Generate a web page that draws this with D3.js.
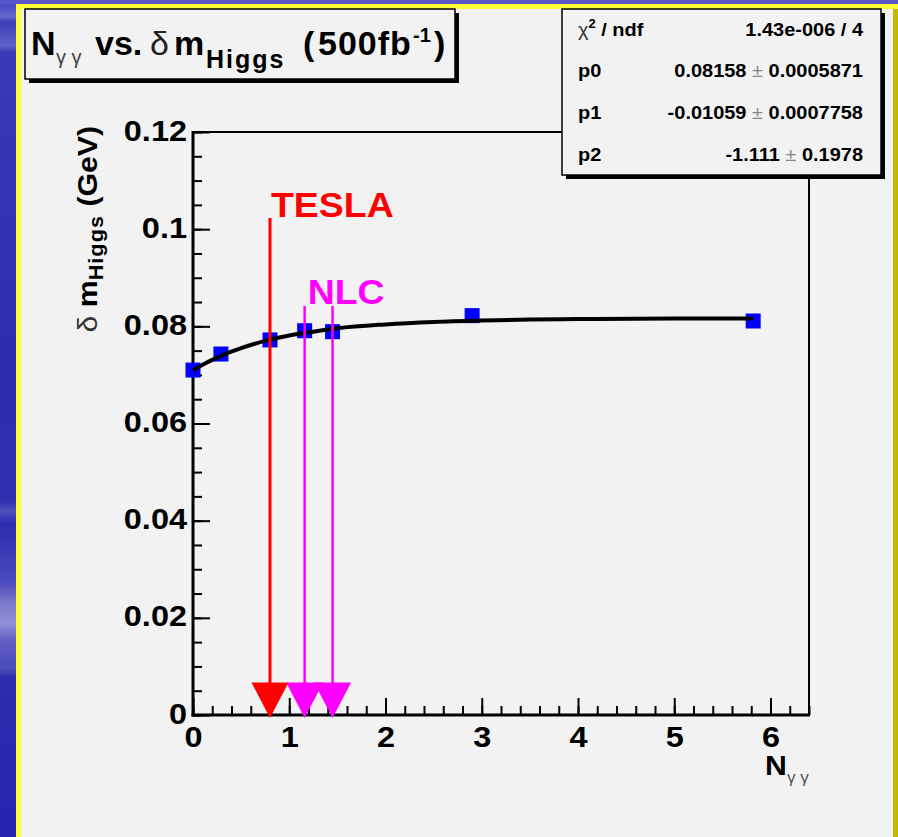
<!DOCTYPE html>
<html><head><meta charset="utf-8">
<script src="https://cdn.jsdelivr.net/npm/d3@7"></script>
<style>html,body{margin:0;padding:0;background:#f2f2f2;} svg{display:block}</style>
</head><body>
<svg id="c" width="898" height="837"></svg>
<script>
// ---- data ----
const pointX = [0, 0.29, 0.80, 1.16, 1.45, 2.90, 5.82];
const pointY = [0.0710, 0.0743, 0.0772, 0.0791, 0.0789, 0.0822, 0.0811];
const curveX = [0, 0.1, 0.2, 0.3, 0.5, 0.75, 1.0, 1.25, 1.5, 2.0, 2.5, 3.0, 3.5, 4.0, 5.0, 5.82];
const curveY = [0.0710, 0.0721, 0.0731, 0.0740, 0.0755, 0.0770, 0.0781, 0.0789, 0.0796, 0.0804, 0.0809, 0.0812, 0.0814, 0.0815, 0.0816, 0.0816];
const arrowX = [0.80, 1.16, 1.45];
const arrowTop = [0.1023, 0.0842, 0.0842];
const arrowGroup = ["TESLA", "NLC", "NLC"];
const xTicks = [0, 1, 2, 3, 4, 5, 6];
const xTickLabels = ["0", "1", "2", "3", "4", "5", "6"];
const yTicks = [0, 0.02, 0.04, 0.06, 0.08, 0.10, 0.12];
const yTickLabels = ["0", "0.02", "0.04", "0.06", "0.08", "0.1", "0.12"];
const statNames = ["χ2 / ndf", "p0", "p1", "p2"];
const statValues = ["1.43e-006 / 4", "0.08158 ± 0.0005871", "-0.01059 ± 0.0007758", "-1.111 ± 0.1978"];

// ---- drawing ----
const W = 898, H = 837;
const FONT = '"Liberation Sans", Arial, Helvetica, sans-serif';
const svg = d3.select('#c').attr('font-family', FONT);

const defs = svg.append('defs');
const g = defs.append('linearGradient').attr('id', 'bg').attr('x1', 0).attr('y1', 0).attr('x2', 0).attr('y2', 1);
[[0,'#5c5cc8'],[0.006,'#4a4ac0'],[0.02,'#6a6ad0'],[0.026,'#3e3eb8'],[0.055,'#6060c8'],[0.062,'#3a3ab6'],
 [0.2,'#3434b4'],[0.45,'#2c2cae'],[0.6,'#3030b0'],[0.61,'#5252c0'],[0.625,'#2c2cae'],[0.695,'#4a4abc'],
 [0.72,'#7a7acc'],[0.745,'#9090d8'],[0.765,'#6060c4'],[0.8,'#4a4abb'],[0.81,'#2c2cae'],[1,'#2424b0']]
 .forEach(([o,c]) => g.append('stop').attr('offset', o).attr('stop-color', c));

svg.append('rect').attr('x',0).attr('y',0).attr('width',W).attr('height',H).attr('fill','url(#bg)');
svg.append('rect').attr('x',0).attr('y',0).attr('width',W).attr('height',4).attr('fill','#5656c4');
svg.append('rect').attr('x',16).attr('y',4).attr('width',W-16).attr('height',H-4).attr('fill','#ffff33');
svg.append('rect').attr('x',893).attr('y',9).attr('width',5).attr('height',H-9).attr('fill','#c2ba00');
svg.append('rect').attr('x',21).attr('y',9).attr('width',872).attr('height',H-9).attr('fill','#f2f2f2');

const x = d3.scaleLinear().domain([0, 6.4]).range([193, 809]);
const y = d3.scaleLinear().domain([0, 0.12]).range([715, 132]);

// helper: horizontally stretched text
function stext(parent, px, py, sx, anchor) {
  return parent.append('g').attr('transform', `translate(${px},${py}) scale(${sx},1)`)
    .append('text').attr('x', 0).attr('y', 0).attr('text-anchor', anchor || 'start');
}

// minor ticks
const minorX = d3.range(0, 6.401, 0.2);
const minorY = d3.range(0, 0.1201, 0.005);
svg.append('g').attr('transform', `translate(0,${y(0)})`)
  .call(d3.axisBottom(x).tickValues(minorX).tickSize(-9).tickSizeOuter(0).tickFormat(''))
  .call(a => a.select('.domain').remove())
  .call(a => a.selectAll('line').attr('stroke', '#000').attr('stroke-width', 2));
svg.append('g').attr('transform', `translate(${x(0)},0)`)
  .call(d3.axisLeft(y).tickValues(minorY).tickSize(-9).tickSizeOuter(0).tickFormat(''))
  .call(a => a.select('.domain').remove())
  .call(a => a.selectAll('line').attr('stroke', '#000').attr('stroke-width', 2));

// major ticks + labels
const TSX = 1.12;
svg.append('g').attr('transform', `translate(0,${y(0)})`)
  .call(d3.axisBottom(x).tickValues(xTicks).tickSize(-17).tickSizeOuter(0).tickFormat((d,i) => xTickLabels[i]))
  .call(a => a.select('.domain').remove())
  .call(a => a.selectAll('line').attr('stroke', '#000').attr('stroke-width', 2))
  .call(a => a.selectAll('text').attr('fill', '#000').attr('font-size', 29).attr('font-weight', 'bold')
     .attr('font-family', FONT).attr('y', 0).attr('dy', 0).attr('transform', `translate(0,32) scale(${TSX},1)`));
svg.append('g').attr('transform', `translate(${x(0)},0)`)
  .call(d3.axisLeft(y).tickValues(yTicks).tickSize(-17).tickSizeOuter(0).tickFormat((d,i) => yTickLabels[i]))
  .call(a => a.select('.domain').remove())
  .call(a => a.selectAll('line').attr('stroke', '#000').attr('stroke-width', 2))
  .call(a => a.selectAll('text').attr('fill', '#000').attr('font-size', 29).attr('font-weight', 'bold')
     .attr('font-family', FONT).attr('x', 0).attr('dy', 0).attr('text-anchor', 'end')
     .attr('transform', `translate(-6,8) scale(${TSX},1)`));

// frame
const fr = svg.append('g').attr('stroke', '#000').attr('fill', 'none');
fr.append('line').attr('x1', x(0)).attr('x2', x(6.4)).attr('y1', y(0.12)).attr('y2', y(0.12)).attr('stroke-width', 2);
fr.append('line').attr('x1', x(6.4)).attr('x2', x(6.4)).attr('y1', y(0.12)).attr('y2', y(0)).attr('stroke-width', 2);
fr.append('line').attr('x1', x(0)).attr('x2', x(0)).attr('y1', y(0.12) - 1).attr('y2', y(0) + 1.5).attr('stroke-width', 3);
fr.append('line').attr('x1', x(0) - 1.5).attr('x2', x(6.4) + 1).attr('y1', y(0)).attr('y2', y(0)).attr('stroke-width', 3);

// markers
svg.append('g').selectAll('rect').data(pointX).join('rect')
  .attr('x', (d) => x(d) - 7.5).attr('y', (d,i) => y(pointY[i]) - 7.5)
  .attr('width', 15).attr('height', 15).attr('fill', '#0000ff');

// fit curve
const line = d3.line().x(d => x(d[0])).y(d => y(d[1])).curve(d3.curveMonotoneX);
svg.append('path').datum(curveX.map((d,i) => [d, curveY[i]]))
  .attr('d', line).attr('fill', 'none').attr('stroke', '#000').attr('stroke-width', 4);

// arrows
const colorOf = k => k === 'TESLA' ? '#ff0000' : '#ff00ff';
const headH = 35.5, headW = 37;
arrowX.forEach((ax, i) => {
  const cx = x(ax), tipY = y(0) + 3;
  svg.append('line').attr('x1', cx).attr('x2', cx).attr('y1', y(arrowTop[i])).attr('y2', tipY - headH + 1)
    .attr('stroke', colorOf(arrowGroup[i])).attr('stroke-width', arrowGroup[i] === 'TESLA' ? 3 : 2.5);
});
arrowX.forEach((ax, i) => {
  const cx = x(ax), tipY = y(0) + 3;
  svg.append('path').attr('d', `M${cx - headW/2},${tipY - headH}L${cx + headW/2},${tipY - headH}L${cx},${tipY}Z`)
    .attr('fill', colorOf(arrowGroup[i]));
});
// arrow labels (one per group, at first arrow of the group)
const seen = {};
arrowX.forEach((ax, i) => {
  const k = arrowGroup[i];
  if (seen[k]) return; seen[k] = true;
  stext(svg, x(ax) + (k === 'TESLA' ? 1 : 3), y(arrowTop[i]) - (k === 'TESLA' ? 1 : 2), 1.07)
    .attr('font-size', 35).attr('font-weight', 'bold').attr('fill', colorOf(k)).text(k);
});

// axis titles
const yt = svg.append('g').attr('transform', `translate(97,126) rotate(-90) scale(1.08,1)`)
  .append('text').attr('text-anchor', 'end').attr('font-size', 28).attr('font-weight', 'bold').attr('fill', '#000');
yt.append('tspan').attr('font-weight', 'normal').attr('fill', '#333').text('δ ');
yt.append('tspan').text('m');
yt.append('tspan').attr('font-size', 20).attr('dy', 6).attr('letter-spacing', 1).text('Higgs');
yt.append('tspan').attr('dy', -6).text(' (GeV)');

const xt = stext(svg, x(6.4), 775, 1.08, 'end').attr('font-size', 28).attr('font-weight', 'bold').attr('fill', '#000');
xt.append('tspan').text('N');
xt.append('tspan').attr('font-size', 16).attr('font-weight', 'normal').attr('fill', '#555').attr('dy', 8).text('γ γ');

// title box
svg.append('rect').attr('x', 29).attr('y', 13).attr('width', 430).attr('height', 70).attr('fill', '#000');
svg.append('rect').attr('x', 25).attr('y', 9).attr('width', 430).attr('height', 70).attr('fill', '#f2f2f2')
  .attr('stroke', '#000').attr('stroke-width', 1.5);
const tt = svg.append('text').attr('font-size', 34).attr('font-weight', 'bold').attr('fill', '#000');
tt.append('tspan').attr('x', 31).attr('y', 55).text('N');
tt.append('tspan').attr('x', 56).attr('y', 64).attr('font-size', 20).attr('font-weight', 'normal').attr('fill', '#444').text('γ γ');
tt.append('tspan').attr('x', 95).attr('y', 55).text('vs.');
tt.append('tspan').attr('x', 150).attr('y', 55).attr('font-weight', 'normal').attr('fill', '#222').text('δ');
tt.append('tspan').attr('x', 174).attr('y', 55).text('m');
tt.append('tspan').attr('x', 206).attr('y', 68).attr('font-size', 25).attr('letter-spacing', 2).text('Higgs');
tt.append('tspan').attr('x', 303).attr('y', 55).text('(');
tt.append('tspan').attr('x', 318).attr('y', 55).attr('letter-spacing', 1).text('500fb');
tt.append('tspan').attr('x', 413).attr('y', 42).attr('font-size', 20).text('-1');
tt.append('tspan').attr('x', 434).attr('y', 55).text(')');

// stats box
svg.append('rect').attr('x', 566).attr('y', 13).attr('width', 319).attr('height', 166).attr('fill', '#000');
svg.append('rect').attr('x', 562).attr('y', 9).attr('width', 319).attr('height', 166).attr('fill', '#f2f2f2')
  .attr('stroke', '#000').attr('stroke-width', 1.5);
const rowY = [36, 77, 119, 160.5];
const SS = 1.08;
statNames.forEach((nm, i) => {
  const t = stext(svg, 578, rowY[i], SS).attr('font-size', 18.5).attr('font-weight', 'bold').attr('fill', '#000');
  if (nm.startsWith('χ')) {
    t.append('tspan').attr('font-weight', 'normal').attr('fill', '#333').text('χ');
    t.append('tspan').attr('font-size', 12).attr('dy', -8).text('2');
    t.append('tspan').attr('dy', 8).text(nm.slice(2));
  } else t.text(nm);
  const v = stext(svg, 863, rowY[i], SS, 'end').attr('font-size', 18.5).attr('font-weight', 'bold').attr('fill', '#000');
  const parts = statValues[i].split('±');
  v.append('tspan').text(parts[0]);
  if (parts.length > 1) {
    v.append('tspan').attr('font-weight', 'normal').attr('fill', '#888').text('±');
    v.append('tspan').text(parts[1]);
  }
});
</script>
</body></html>
